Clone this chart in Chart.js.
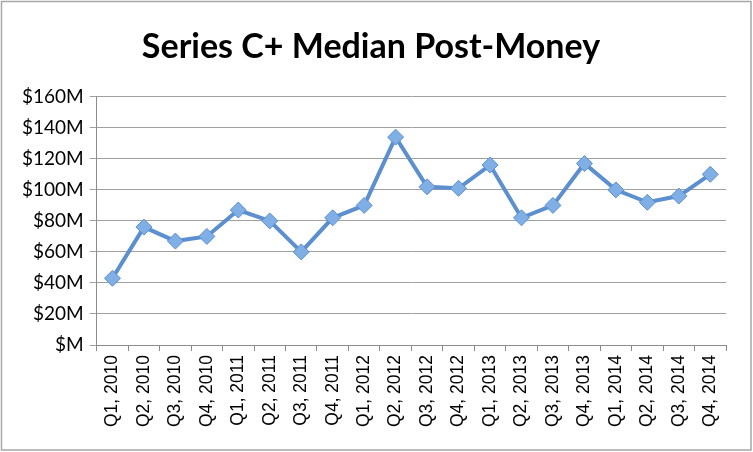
<!DOCTYPE html>
<html>
<head>
<meta charset="utf-8">
<script src="https://cdn.jsdelivr.net/npm/chart.js@4.4.1/dist/chart.umd.min.js"></script>
<style>
  html, body { margin: 0; padding: 0; background: #fff; }
  #wrap { position: relative; width: 753px; height: 452px; }
</style>
</head>
<body>
<div id="wrap"><canvas id="c" width="753" height="452"></canvas></div>
<script>
const title = 'Series C+ Median Post-Money';
const categories = ['Q1, 2010','Q2, 2010','Q3, 2010','Q4, 2010','Q1, 2011','Q2, 2011','Q3, 2011','Q4, 2011',
  'Q1, 2012','Q2, 2012','Q3, 2012','Q4, 2012','Q1, 2013','Q2, 2013','Q3, 2013','Q4, 2013',
  'Q1, 2014','Q2, 2014','Q3, 2014','Q4, 2014'];
const postMoney = [43, 76, 67, 70, 87, 80, 60, 82, 90, 134, 102, 101, 116, 82, 90, 117, 100, 92, 96, 110];
const yTicks = [0, 20, 40, 60, 80, 100, 120, 140, 160];

const borderPlugin = {
  id: 'outerBorder',
  afterDraw(chart) {
    const ctx = chart.ctx;
    ctx.save();
    ctx.strokeStyle = '#a6a6a6';
    ctx.lineWidth = 1.5;
    ctx.strokeRect(1.5, 1.5, 749.5, 448.5);
    ctx.restore();
  }
};

new Chart(document.getElementById('c'), {
  type: 'line',
  data: {
    labels: categories,
    datasets: [{
      label: 'Median Post-Money',
      data: postMoney,
      borderColor: '#5b8fcf',
      borderWidth: 4,
      pointStyle: 'rectRot',
      pointRadius: 8,
      pointHoverRadius: 8,
      pointBackgroundColor: '#80afe6',
      pointBorderColor: '#5b8fcf',
      pointBorderWidth: 1,
      tension: 0
    }]
  },
  options: {
    responsive: false,
    animation: false,
    devicePixelRatio: 1,
    layout: { padding: { left: 16, right: 27, top: 0, bottom: 21 } },
    plugins: {
      legend: { display: false },
      tooltip: { enabled: false },
      title: {
        display: true,
        text: title,
        color: '#000',
        font: { family: 'Lato', size: 34, weight: 'bold' },
        padding: { top: 27, bottom: 29 }
      }
    },
    scales: {
      x: {
        offset: true,
        grid: { display: true, drawOnChartArea: false, drawTicks: true, tickLength: 6, color: '#8c8c8c', offset: true },
        border: { display: true, color: '#8c8c8c', width: 1 },
        ticks: {
          color: '#000',
          font: { family: 'Liberation Sans', size: 17.5 },
          maxRotation: 90, minRotation: 90,
          autoSkip: false,
          padding: 4
        }
      },
      y: {
        min: 0, max: 160,
        afterBuildTicks(axis) { axis.ticks = yTicks.map(v => ({ value: v })); },
        grid: { color: '#a0a0a0', lineWidth: 1, drawTicks: true, tickLength: 7 },
        border: { display: true, color: '#8c8c8c', width: 1 },
        ticks: {
          color: '#000',
          font: { family: 'Lato', size: 19 },
          padding: 6,
          callback: v => v === 0 ? '$M' : '$' + v + 'M'
        }
      }
    }
  },
  plugins: [borderPlugin]
});
</script>
</body>
</html>
